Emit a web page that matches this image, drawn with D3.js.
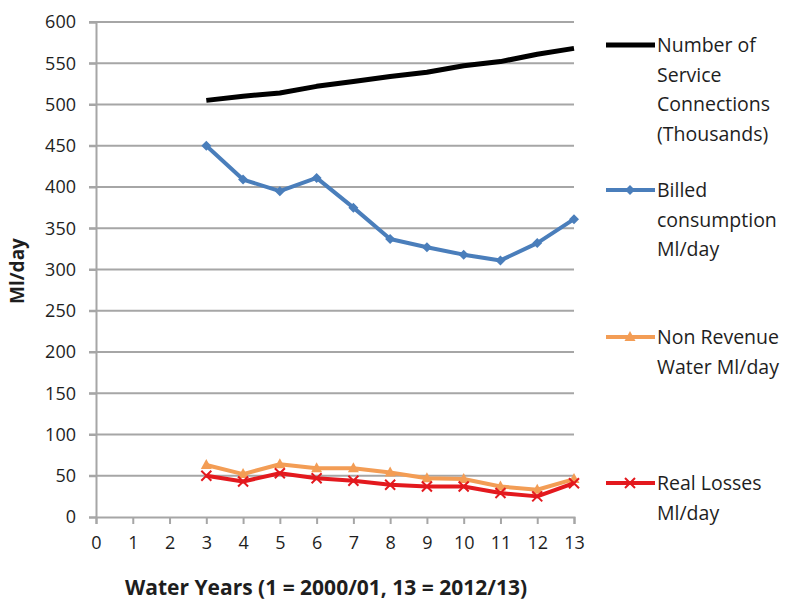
<!DOCTYPE html>
<html>
<head>
<meta charset="utf-8">
<script src="https://cdn.jsdelivr.net/npm/d3@7"></script>
<style>
  html, body { margin: 0; padding: 0; background: #fff; }
  svg { display: block; }
  text { font-family: "Open Sans", "Liberation Sans", sans-serif; fill: #1e1e1e; }
</style>
</head>
<body>
<svg id="chart" width="792" height="603"></svg>
<script>
// Water years 3..13 (1 = 2000/01, 13 = 2012/13)
const years = [3, 4, 5, 6, 7, 8, 9, 10, 11, 12, 13];
const connections = [505, 510, 514, 522, 528, 534, 539, 547, 552, 561, 568];
const billed = [450, 409, 395, 411, 375, 337, 327, 318, 311, 332, 361];
const nonRevenue = [63, 52, 64, 59, 59, 54, 47, 46, 37, 33, 46];
const realLosses = [50, 43, 53, 47, 44, 39, 37, 37, 29, 25, 41];
const xTicks = d3.range(0, 14);
const yTicks = d3.range(0, 601, 50);

const seriesNames = [
  ["Number of", "Service", "Connections", "(Thousands)"],
  ["Billed", "consumption", "Ml/day"],
  ["Non Revenue", "Water Ml/day"],
  ["Real Losses", "Ml/day"]
];

const series = [
  { values: connections, color: "#000000", marker: "none", width: 5, label: seriesNames[0], ly: 45 },
  { values: billed, color: "#4a7ebb", marker: "diamond", width: 4, label: seriesNames[1], ly: 190 },
  { values: nonRevenue, color: "#f39d55", marker: "triangle", width: 4, label: seriesNames[2], ly: 337 },
  { values: realLosses, color: "#e3191e", marker: "x", width: 4, label: seriesNames[3], ly: 483 }
];

const svg = d3.select("#chart");
const x = d3.scaleLinear().domain([0, 13]).range([96, 574]);
const y = d3.scaleLinear().domain([0, 600]).range([517, 22]);

// horizontal gridlines
svg.append("g")
  .selectAll("line")
  .data(yTicks.filter(d => d > 0))
  .join("line")
  .attr("x1", x(0) - 7).attr("x2", x(13))
  .attr("y1", d => y(d)).attr("y2", d => y(d))
  .attr("stroke", "#a6a6a6").attr("stroke-width", 2);

// y axis
const yAxis = svg.append("g")
  .attr("transform", `translate(${x(0)},0)`)
  .call(d3.axisLeft(y).tickValues(yTicks).tickSize(7).tickPadding(13));
yAxis.select(".domain").attr("stroke", "#a6a6a6").attr("stroke-width", 2);
yAxis.selectAll(".tick line").attr("stroke", "#a6a6a6").attr("stroke-width", 2);
yAxis.selectAll("text").style("font-size", "18px").attr("fill", "#1e1e1e");

// x axis
const xAxis = svg.append("g")
  .attr("transform", `translate(0,${y(0)})`)
  .call(d3.axisBottom(x).tickValues(xTicks).tickSize(7).tickPadding(12));
xAxis.select(".domain").attr("stroke", "#a6a6a6").attr("stroke-width", 2);
xAxis.selectAll(".tick line").attr("stroke", "#a6a6a6").attr("stroke-width", 2);
xAxis.selectAll("text").style("font-size", "18px").attr("fill", "#1e1e1e");

// axis titles
svg.append("text")
  .attr("x", 326).attr("y", 595)
  .attr("text-anchor", "middle")
  .style("font-size", "21px").style("font-weight", "bold")
  .text("Water Years (1 = 2000/01, 13 = 2012/13)");

svg.append("text")
  .attr("transform", "translate(24,271) rotate(-90)")
  .attr("text-anchor", "middle")
  .style("font-size", "19px").style("font-weight", "bold")
  .text("Ml/day");

const line = d3.line().x((d, i) => x(years[i])).y(d => y(d));

function drawMarker(g, kind, cx, cy, color) {
  if (kind === "diamond") {
    g.append("path")
      .attr("d", `M${cx},${cy - 5}L${cx + 5},${cy}L${cx},${cy + 5}L${cx - 5},${cy}Z`)
      .attr("fill", color);
  } else if (kind === "triangle") {
    g.append("path")
      .attr("d", `M${cx},${cy - 6}L${cx + 5.5},${cy + 4}L${cx - 5.5},${cy + 4}Z`)
      .attr("fill", color);
  } else if (kind === "x") {
    g.append("path")
      .attr("d", `M${cx - 5},${cy - 5}L${cx + 5},${cy + 5}M${cx - 5},${cy + 5}L${cx + 5},${cy - 5}`)
      .attr("stroke", color).attr("stroke-width", 2);
  }
}

series.forEach(s => {
  const g = svg.append("g");
  g.append("path")
    .datum(s.values)
    .attr("d", line)
    .attr("fill", "none")
    .attr("stroke", s.color)
    .attr("stroke-width", s.width)
    .attr("stroke-linejoin", "round");
  s.values.forEach((v, i) => drawMarker(g, s.marker, x(years[i]), y(v), s.color));

  // legend entry
  const lg = svg.append("g");
  lg.append("line")
    .attr("x1", 606).attr("x2", 655)
    .attr("y1", s.ly).attr("y2", s.ly)
    .attr("stroke", s.color).attr("stroke-width", s.width);
  drawMarker(lg, s.marker, 630, s.ly, s.color);
  lg.selectAll("text")
    .data(s.label)
    .join("text")
    .attr("x", 657)
    .attr("y", (d, i) => s.ly + 7 + i * 29.5)
    .style("font-size", "19.5px")
    .text(d => d);
});
</script>
</body>
</html>
